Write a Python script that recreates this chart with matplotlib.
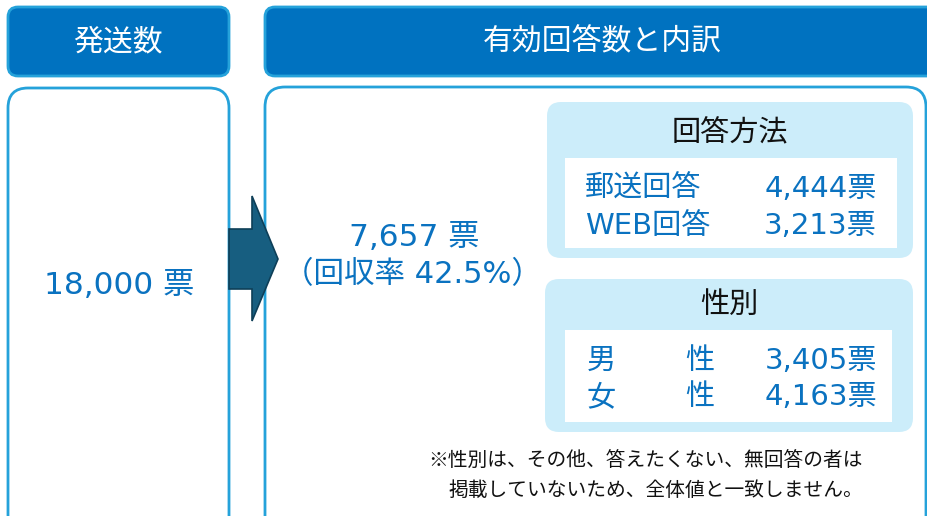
import matplotlib
matplotlib.use("Agg")
import matplotlib.pyplot as plt
from matplotlib.patches import FancyBboxPatch, Rectangle, Polygon

plt.rcParams['font.family'] = ['Noto Sans CJK JP', 'DejaVu Sans']
NUMFONT = ['DejaVu Sans', 'Noto Sans CJK JP']

# data
headers = ["発送数", "有効回答数と内訳"]
sent_total = 18000
valid_total = 7657
return_rate = 42.5
method_title = "回答方法"
methods = ["郵送回答", "WEB回答"]
method_counts = [4444, 3213]
gender_title = "性別"
genders = ["男性", "女性"]
gender_counts = [3405, 4163]
note_lines = ["※性別は、その他、答えたくない、無回答の者は",
              "掲載していないため、全体値と一致しません。"]

HEAD = '#0072C0'
EDGE = '#25A2DA'
BLUE = '#0A72C0'
PALE = '#CCEDFA'
ARROW = '#175E80'

fig = plt.figure(figsize=(9.28, 5.16), dpi=100)
ax = fig.add_axes([0, 0, 1, 1])
ax.set_xlim(0, 928)
ax.set_ylim(516, 0)
ax.axis('off')


def rbox(x0, y0, x1, y1, r, fc, ec, lw=2.0, z=1):
    p = FancyBboxPatch((x0 + r, y0 + r), (x1 - x0) - 2 * r, (y1 - y0) - 2 * r,
                       boxstyle="round,pad=%f" % r, fc=fc, ec=ec, lw=lw,
                       zorder=z, mutation_aspect=1)
    ax.add_patch(p)


# header boxes
rbox(8, 7, 229, 76, 10, HEAD, EDGE)
rbox(265, 7, 950, 76, 10, HEAD, EDGE)
ax.text(118, 42, headers[0], color='white', fontsize=21.5, ha='center', va='center', zorder=5)
ax.text(602, 42, headers[1], color='white', fontsize=21.5, ha='center', va='center', zorder=5)

# body boxes
rbox(8, 88, 229, 560, 20, 'white', EDGE)
rbox(265, 87, 926, 560, 20, 'white', EDGE)

# arrow
ax.add_patch(Polygon([(229, 229), (252, 229), (252, 196), (278, 259),
                      (252, 321), (252, 289), (229, 289)],
                     closed=True, fc=ARROW, ec='#0E3F58', lw=1.2, zorder=4))

ax.text(119, 285, f"{sent_total:,} 票", color=BLUE, fontsize=22.5, family=NUMFONT,
        ha='center', va='center', zorder=5)
ax.text(414, 238, f"{valid_total:,} 票", color=BLUE, fontsize=22.5, family=NUMFONT,
        ha='center', va='center', zorder=5)
ax.text(412, 275, f"（回収率 {return_rate}%）", color=BLUE, fontsize=22,
        family=NUMFONT, ha='center', va='center', zorder=5)

# method panel
rbox(547, 102, 913, 258, 14, PALE, 'none', lw=0, z=2)
ax.add_patch(Rectangle((565, 158), 332, 90, fc='white', ec='none', zorder=3))
ax.text(730, 133, method_title, color='#111111', fontsize=21, ha='center', va='center', zorder=5)
for i, (m, c) in enumerate(zip(methods, method_counts)):
    y = 189 + i * 37
    ax.text(585, y, m, color=BLUE, fontsize=21, family=NUMFONT, ha='left', va='center', zorder=5)
    ax.text(877, y, f"{c:,}票", color=BLUE, fontsize=21, family=NUMFONT,
            ha='right', va='center', zorder=5)

# gender panel
rbox(545, 279, 913, 432, 14, PALE, 'none', lw=0, z=2)
ax.add_patch(Rectangle((565, 330), 327, 92, fc='white', ec='none', zorder=3))
ax.text(729, 305, gender_title, color='#111111', fontsize=21, ha='center', va='center', zorder=5)
for i, (g, c) in enumerate(zip(genders, gender_counts)):
    y = 361 + i * 36
    ax.text(587, y, g[0], color=BLUE, fontsize=21, ha='left', va='center', zorder=5)
    ax.text(685, y, g[1], color=BLUE, fontsize=21, ha='left', va='center', zorder=5)
    ax.text(877, y, f"{c:,}票", color=BLUE, fontsize=21, family=NUMFONT,
            ha='right', va='center', zorder=5)

# note
ax.text(428, 461, note_lines[0], color='#111111', fontsize=14.2, ha='left', va='center', zorder=5)
ax.text(448, 490, note_lines[1], color='#111111', fontsize=14.2, ha='left', va='center', zorder=5)

fig.savefig('out.png', dpi=100)
